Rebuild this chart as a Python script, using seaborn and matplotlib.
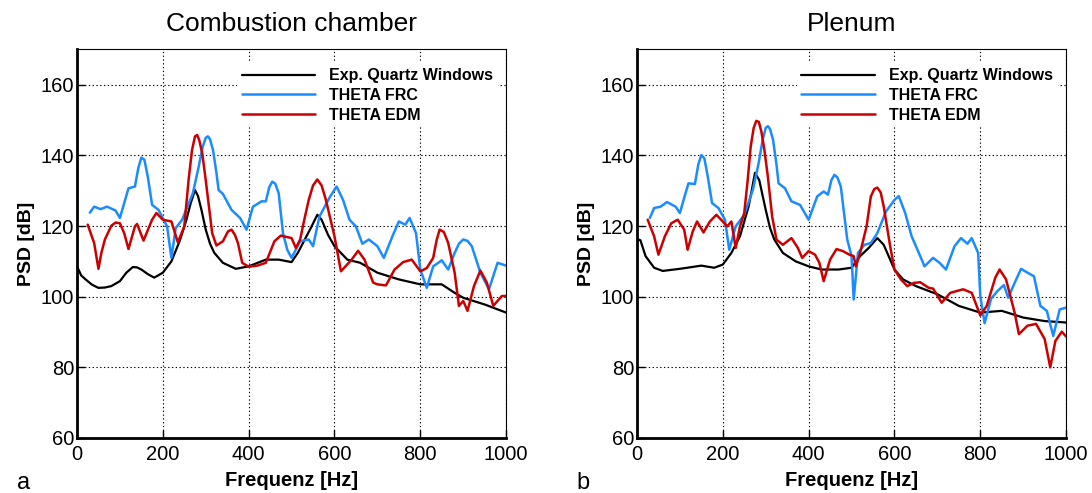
import numpy as np
import pandas as pd
import matplotlib
matplotlib.use("Agg")
import matplotlib.pyplot as plt
import seaborn as sns

# ---------------- data ----------------
panel_titles = ["Combustion chamber", "Plenum"]
panel_letters = ["a", "b"]
series_names = ["Exp. Quartz Windows", "THETA FRC", "THETA EDM"]
x_label = "Frequenz [Hz]"
y_label = "PSD [dB]"
x_ticks = [0, 200, 400, 600, 800, 1000]
y_ticks = [60, 80, 100, 120, 140, 160]

# Combustion chamber
cc_exp_f = [0, 10, 20, 35, 50, 65, 80, 100, 115, 130, 140, 150, 165, 180, 200, 220, 240, 255,
            265, 275, 282, 290, 300, 310, 320, 340, 370, 400, 440, 470, 500, 515, 530, 545,
            560, 570, 585, 600, 630, 660, 700, 750, 800, 850, 880, 900, 950, 1000]
cc_exp_v = [108.6, 106.0, 104.9, 103.4, 102.5, 102.6, 103.0, 104.4, 106.8, 108.4, 108.3,
            107.7, 106.4, 105.4, 106.8, 110.0, 116.0, 121.8, 126.5, 130.2, 128.5, 124.6,
            119.0, 115.0, 112.4, 109.6, 107.9, 108.6, 110.5, 110.5, 109.8, 112.5, 116.0,
            119.5, 123.2, 121.8, 117.5, 114.3, 110.5, 109.6, 106.8, 104.9, 103.5, 103.5,
            101.1, 99.7, 97.8, 95.5]

cc_frc_f = [30, 40, 55, 70, 90, 100, 110, 120, 135, 143, 150, 157, 165, 175, 190, 210, 220,
            230, 245, 270, 283, 293, 300, 305, 310, 317, 325, 330, 340, 360, 380, 395, 410,
            430, 440, 448, 455, 462, 470, 480, 490, 500, 520, 540, 550, 565, 590, 605, 620,
            635, 650, 665, 680, 700, 715, 735, 750, 765, 775, 790, 800, 815, 830, 850, 865,
            880, 890, 900, 910, 920, 940, 960, 980, 1000]
cc_frc_v = [123.8, 125.5, 124.8, 125.5, 124.4, 122.3, 126.5, 130.7, 131.2, 136.5, 139.4,
            138.8, 134.0, 126.0, 124.6, 119.9, 111.0, 119.4, 121.8, 129.3, 136.5, 142.5,
            145.0, 145.4, 144.6, 141.5, 135.0, 130.2, 129.1, 124.6, 122.3, 119.0, 125.5,
            127.0, 127.0, 131.0, 132.6, 132.0, 129.3, 118.0, 113.3, 111.0, 115.7, 116.2,
            114.3, 122.7, 128.4, 131.2, 127.4, 121.8, 119.9, 115.0, 116.2, 114.3, 111.0,
            117.1, 121.3, 120.4, 122.3, 118.0, 107.7, 102.5, 108.6, 110.3, 107.7, 112.4,
            115.0, 116.2, 115.8, 114.3, 106.8, 102.1, 109.6, 108.8]

cc_edm_f = [25, 40, 50, 57, 65, 80, 90, 100, 110, 120, 135, 140, 155, 175, 185, 200, 220,
            235, 250, 260, 268, 275, 280, 285, 292, 300, 315, 325, 340, 352, 360, 368, 375,
            385, 400, 420, 440, 460, 475, 500, 510, 520, 530, 540, 550, 560, 570, 580, 600,
            615, 640, 655, 670, 690, 700, 720, 740, 760, 780, 800, 815, 830, 838, 845, 855,
            865, 880, 890, 900, 910, 925, 940, 955, 970, 990, 1000]
cc_edm_v = [120.4, 115.2, 107.9, 112.5, 116.2, 120.1, 121.0, 120.8, 118.0, 113.5, 119.9,
            120.6, 115.9, 121.8, 123.7, 121.8, 121.3, 115.4, 119.9, 133.0, 141.5, 145.4,
            145.8, 144.3, 140.5, 133.0, 118.0, 114.5, 115.7, 118.5, 119.0, 117.5, 115.2,
            109.6, 108.5, 108.8, 109.6, 115.7, 117.3, 116.6, 113.8, 116.2, 122.0, 127.4,
            131.5, 133.2, 131.5, 127.4, 117.1, 107.2, 110.5, 113.0, 110.5, 104.0, 103.5,
            103.2, 107.7, 109.8, 110.5, 107.2, 108.1, 111.0, 116.0, 119.0, 118.3, 115.2,
            106.8, 97.4, 98.8, 96.0, 103.0, 107.4, 104.0, 97.4, 100.2, 100.2]

# Plenum
pl_exp_f = [0, 8, 20, 40, 60, 80, 100, 150, 180, 200, 220, 240, 260, 268, 275, 285, 300,
            310, 320, 340, 370, 400, 430, 470, 500, 520, 540, 550, 560, 575, 600, 620, 650,
            700, 750, 800, 850, 900, 950, 1000]
pl_exp_v = [116.3, 116.0, 111.5, 108.2, 107.3, 107.6, 107.9, 108.8, 108.2, 109.1, 112.4,
            117.1, 125.5, 130.5, 135.1, 133.0, 124.6, 119.5, 116.2, 112.4, 110.0, 108.6,
            107.7, 107.7, 108.2, 111.5, 113.8, 115.2, 116.6, 114.7, 107.7, 104.9, 103.0,
            100.7, 97.4, 95.5, 96.0, 94.1, 93.1, 92.7]

pl_frc_f = [30, 40, 55, 70, 90, 100, 110, 120, 135, 143, 150, 157, 165, 175, 190, 205, 215,
            230, 250, 270, 283, 293, 300, 305, 310, 317, 325, 330, 345, 360, 380, 400, 420,
            435, 445, 453, 460, 467, 475, 490, 500, 505, 515, 530, 545, 560, 580, 600, 610,
            625, 640, 660, 670, 690, 705, 720, 740, 755, 770, 780, 795, 800, 810, 825, 840,
            855, 865, 880, 895, 910, 925, 940, 955, 970, 985, 1000]
pl_frc_v = [122.3, 125.1, 125.5, 126.8, 125.5, 123.7, 128.0, 132.1, 131.9, 137.5, 140.1,
            139.2, 134.0, 126.5, 125.1, 121.8, 113.3, 119.9, 123.2, 130.2, 137.5, 144.5,
            147.8, 148.3, 147.5, 144.5, 137.5, 132.1, 130.7, 127.0, 126.0, 121.8, 128.4,
            129.8, 128.9, 133.0, 134.5, 133.8, 131.2, 116.2, 111.5, 99.2, 112.4, 114.7,
            115.2, 118.0, 124.1, 127.4, 128.5, 123.7, 117.1, 111.5, 108.6, 111.0, 109.6,
            107.7, 114.3, 116.6, 115.0, 116.6, 112.4, 100.2, 92.5, 99.4, 101.6, 103.3,
            99.7, 103.9, 107.9, 106.8, 105.8, 97.4, 96.0, 88.9, 96.4, 96.9]

pl_edm_f = [25, 40, 50, 65, 80, 95, 110, 118, 130, 140, 155, 170, 185, 200, 210, 220, 230,
            240, 250, 258, 265, 272, 278, 284, 290, 297, 305, 315, 325, 340, 360, 375, 385,
            400, 415, 425, 435, 450, 465, 480, 495, 505, 510, 520, 535, 545, 553, 560, 568,
            575, 590, 600, 615, 630, 645, 660, 680, 690, 710, 730, 760, 780, 800, 815, 835,
            845, 860, 880, 890, 910, 930, 950, 963, 975, 990, 1000]
pl_edm_v = [121.8, 117.1, 111.9, 117.1, 120.8, 121.8, 119.0, 113.3, 118.5, 121.3, 118.2,
            121.3, 123.2, 121.3, 119.9, 121.3, 113.8, 119.9, 123.7, 133.0, 142.5, 147.8,
            149.8, 149.5, 146.7, 141.5, 134.0, 122.7, 116.2, 114.7, 116.6, 113.8, 111.0,
            112.9, 111.9, 109.6, 104.4, 110.5, 113.5, 112.9, 111.9, 111.5, 108.6, 112.4,
            119.9, 128.4, 130.5, 130.9, 129.5, 125.5, 114.3, 107.7, 104.9, 103.0, 103.9,
            104.1, 102.5, 102.3, 98.3, 101.1, 102.1, 101.1, 94.7, 97.4, 105.4, 107.7, 104.9,
            95.5, 89.4, 91.8, 92.3, 88.0, 80.0, 87.5, 90.1, 88.7]

# ---------------- styling ----------------
colors = {"Exp. Quartz Windows": "#000000", "THETA FRC": "#1a8cff", "THETA EDM": "#cc0000"}
widths = {"Exp. Quartz Windows": 1.6, "THETA FRC": 1.8, "THETA EDM": 1.8}

sns.set_style("ticks")
plt.rcParams["font.family"] = ["Liberation Sans", "DejaVu Sans"]
plt.rcParams.update({
    "text.color": "black", "axes.labelcolor": "black", "axes.edgecolor": "black",
    "xtick.color": "black", "ytick.color": "black",
})


def make_df(exp_f, exp_v, frc_f, frc_v, edm_f, edm_v):
    parts = []
    for name, f, v in zip(series_names, [exp_f, frc_f, edm_f], [exp_v, frc_v, edm_v]):
        parts.append(pd.DataFrame({"f": f, "v": v, "series": name}))
    return pd.concat(parts, ignore_index=True)


panels = [
    make_df(cc_exp_f, cc_exp_v, cc_frc_f, cc_frc_v, cc_edm_f, cc_edm_v),
    make_df(pl_exp_f, pl_exp_v, pl_frc_f, pl_frc_v, pl_edm_f, pl_edm_v),
]

fig = plt.figure(figsize=(10.92, 4.93), dpi=100)
ax_lefts = [0.0705, 0.5833]
axes = [fig.add_axes([l, 0.1116, 0.393, 0.788]) for l in ax_lefts]

for ax, df, title, letter in zip(axes, panels, panel_titles, panel_letters):
    for name in series_names:
        sub = df[df["series"] == name]
        sns.lineplot(data=sub, x="f", y="v", ax=ax, color=colors[name],
                     linewidth=widths[name], estimator=None, sort=True,
                     label=name, legend=False, zorder=3)
    ax.set_xlim(0, 1000)
    ax.set_ylim(60, 170)
    ax.set_xticks(x_ticks)
    ax.set_yticks(y_ticks)
    ax.tick_params(axis="both", direction="in", length=6, width=1,
                   labelsize=14.5, top=False, right=False)
    ax.tick_params(axis="x", pad=5)
    ax.tick_params(axis="y", pad=2)
    ax.grid(True, color="black", linestyle=(0, (1.2, 2.2)), linewidth=0.8, zorder=1)
    ax.set_axisbelow(True)
    for side in ["left", "bottom"]:
        ax.spines[side].set_linewidth(2.0)
    for side in ["top", "right"]:
        ax.spines[side].set_visible(True)
        ax.spines[side].set_linewidth(0.8)
    ax.set_xlabel(x_label, fontsize=14.5, fontweight="bold", labelpad=5)
    ax.set_ylabel(y_label, fontsize=14, fontweight="bold", labelpad=4)
    ax.set_title(title, fontsize=19, pad=13)
    handles = ax.get_lines()[:3]
    leg = ax.legend(handles, series_names, loc="upper right",
                    bbox_to_anchor=(1.0, 0.985), frameon=True, fancybox=False,
                    framealpha=1, edgecolor="none", facecolor="white",
                    prop={"weight": "bold", "size": 11.5}, handlelength=4.6,
                    handletextpad=0.9, labelspacing=0.3, borderpad=0.3)
    ax.text(-0.14, -0.115, letter, transform=ax.transAxes, fontsize=17,
            ha="left", va="center")

fig.savefig("out.png", dpi=100)
